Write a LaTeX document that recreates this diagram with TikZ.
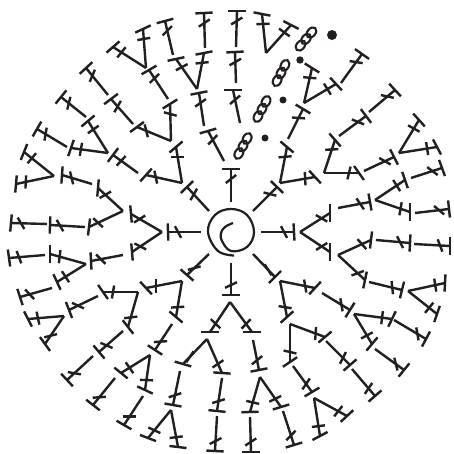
\documentclass[tikz,border=0pt]{standalone}
\usepackage{xcolor}
\usetikzlibrary{calc}
\definecolor{yarn}{HTML}{231F20}
\newcommand{\stitch}[6]{%
  \draw[thread] (#1,#2) -- (#3,#4);
  \draw[thread] ($(#3,#4)+(#5:8.6)$) -- ($(#3,#4)-(#5:8.6)$);
  \draw[thread] ($(#3,#4)!10pt!(#1,#2)+(#6:6.6)$) -- ($(#3,#4)!10pt!(#1,#2)-(#6:6.6)$);
}
\begin{document}
\begin{tikzpicture}[x=1pt, y=-1pt,
          thread/.style={draw=yarn, line width=2.4pt},
          link/.style={draw=yarn, line width=2.1pt},
          knot/.style={fill=yarn, draw=none}]
        \useasboundingbox (0,0) rectangle (453,454);
        % centre ring
        \draw[thread, line width=2.2pt] plot[smooth, tension=0.65] coordinates {(234,255.5) (218,251) (208,232)
          (215,215) (231,209) (247,215) (254,232) (247,247) (231,251) (222,241) (221,233) (225,227) (233,223)};
        % top left
        \foreach \bx/\by/\tx/\ty/\ca/\cb in {
          205/48/204/13/-3/-34, 197/89/204/53/-11/-6, 197/89/176/59/-12/-28,
          173/55/165/21/-15/-45, 146/68/143/29/-25/-10, 146/68/113/47/-41/-51,
          168/99/149/70/-30/-44, 171/141/170/104/-32/15, 171/141/137/127/-36/76,
          133/124/111/99/-37/-60, 108/95/86/68/-43/-67, 108/153/88/121/-40/-35,
          108/153/71/148/-71/-80, 86/117/61/97/-51/-76, 67/147/37/129/-60/-80,
          54/176/24/152/-68/-50, 54/176/16/184/-85/-87, 138/173/113/155/-53/-47,
          182/183/176/147/-40/0, 182/183/146/175/-48/78, 209/211/187/187/-44/-60,
          224/161/208/131/-16/-46, 204/126/199/93/-11/-35, 92/184/62/175/-86/76,
          123/211/98/188/95/-30}
          {\stitch{\bx}{\by}{\tx}{\ty}{\ca}{\cb}}
        % top right
        \foreach \bx/\by/\tx/\ty/\ca/\cb in {
          236/47/237/11/0/-32, 236/83/235/52/-3/-30, 240/123/233/90/0/-40,
          231/202/231/169/0/-38, 266/53/262/14/11/-2, 266/53/291/25/27/36,
          304/103/312/68/32/5, 304/103/336/84/47/58, 341/83/362/54/35/9,
          288/139/303/109/31/4, 280/183/287/147/40/-5, 280/183/315/177/47/87,
          253/211/277/187/44/14, 324/173/335/140/49/-3, 324/173/359/173/55/-76,
          339/136/366/116/53/22, 369/112/395/90/47/12, 364/171/394/157/63/30,
          399/153/419/120/48/29, 399/153/437/147/62/81, 411/178/442/168/70/37,
          375/200/405/180/71/58, 375/200/410/212/90/100, 415/213/449/209/84/40,
          338/208/370/202/80/56, 300/232/330/213/90/30}
          {\stitch{\bx}{\by}{\tx}{\ty}{\ca}{\cb}}
        % bottom right
        \foreach \bx/\by/\tx/\ty/\ca/\cb in {
          261/232/294/232/87/63, 300/232/330/252/90/-32, 338/255/371/240/97/49,
          338/255/365/280/102/-20, 376/240/410/243/93/63, 414/244/450/246/90/69,
          369/282/402/290/104/84, 408/291/445/283/93/81, 408/291/437/314/109/-51,
          322/293/350/310/122/80, 354/314/392/319/116/97, 354/314/372/344/130/-28,
          394/320/426/339/118/80, 375/349/404/370/129/76, 253/254/275/277/135/58,
          280/281/315/288/133/80, 280/281/287/317/138/9, 290/324/325/337/140/94,
          290/324/290/362/146/13, 326/341/350/365/139/-63, 352/369/375/396/139/-56,
          293/366/312/392/149/-56, 314/398/347/416/137/-52, 314/398/320/436/152/-7,
          231/263/231/295/0/-25, 230/302/252/332/0/-46, 253/340/259/370/-11/-39,
          260/377/250/412/-2/13, 260/377/281/407/-17/-26, 283/411/294/445/-17/-46,
          250/417/251/452/0/-33}
          {\stitch{\bx}{\by}{\tx}{\ty}{\ca}{\cb}}
        % bottom left
        \foreach \bx/\by/\tx/\ty/\ca/\cb in {
          209/254/187/275/41/-15, 182/281/146/288/47/90, 182/281/176/317/40/-4,
          172/324/155/350/33/-4, 150/355/121/373/39/55, 150/355/145/390/25/2,
          115/378/93/405/38/-4, 143/396/124/425/30/0, 171/410/148/438/21/25,
          171/410/178/447/7/-7, 180/371/173/405/10/-18, 207/339/183/364/16/-56,
          207/339/222/373/4/-34, 222/378/217/411/6/-17, 217/416/215/451/3/-27,
          230/302/210/332/0/44, 123/331/99/352/50/23, 93/356/67/380/47/10,
          138/292/128/327/52/-7, 138/292/103/292/55/100, 98/296/69/310/69/25,
          64/316/28/319/63/78, 64/316/45/344/54/-14, 52/288/20/297/72/47,
          86/264/57/282/65/57, 86/264/50/254/90/97, 45/255/9/258/82/69,
          123/255/91/261/87/45, 162/232/132/252/85/27, 201/232/168/232/88/62,
          162/232/131/214/85/-32, 47/224/11/223/95/60, 85/227/50/225/92/60,
          123/211/89/227/97/43}
          {\stitch{\bx}{\by}{\tx}{\ty}{\ca}{\cb}}
        % chains
        \foreach \cx/\cy/\ang in {306/39/-50, 281/73/-63, 262/109/-62, 243/146/-61}
          \foreach \k in {-8.5,0,8.5}
            \draw[link, shift={(\cx,\cy)}, rotate=-\ang] (\k,0) ellipse [x radius=5.8, y radius=4];
        % slip stitches
        \foreach \cx/\cy/\rad in {332/35/5, 300/60/3.7, 283/100/3.5, 265/138/3.5}
          \fill[knot] (\cx,\cy) circle [radius=\rad];
      \end{tikzpicture}
\end{document}
